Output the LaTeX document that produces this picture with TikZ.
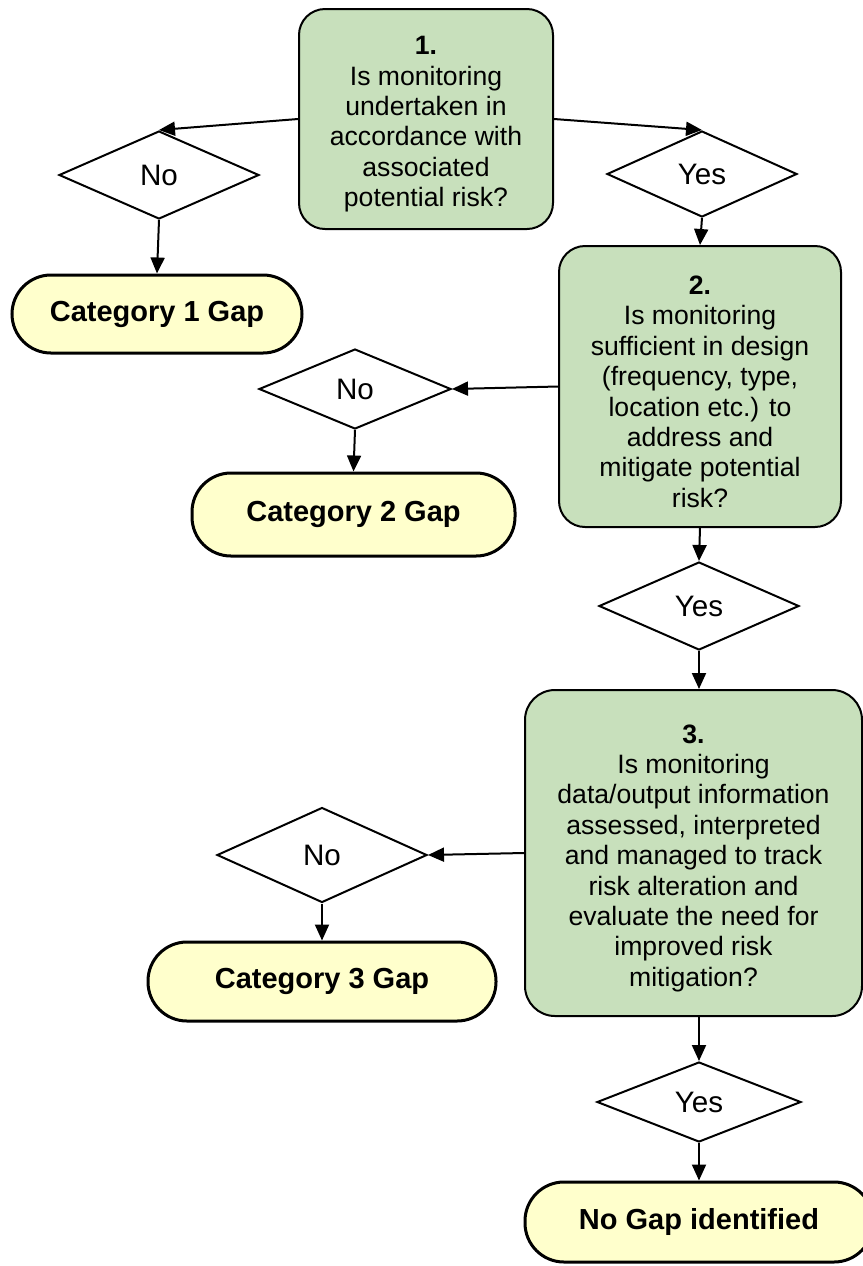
\documentclass[tikz,border=0pt]{standalone}
\usepackage{fontspec}
\setmainfont{Liberation Sans}
\usepackage{xcolor}
\usetikzlibrary{arrows.meta, positioning, shapes.geometric}
\definecolor{questiongreen}{RGB}{200,224,188}
\definecolor{gapyellow}{RGB}{255,255,204}
\tikzset{
    question/.style={draw, line width=1pt, fill=questiongreen, rounded corners=13pt, align=center, font=\fontsize{13.3}{15.2}\selectfont}, % green question boxes
    answer/.style={draw, diamond, line width=1pt, fill=white, inner sep=0pt, font=\fontsize{14.8}{17}\selectfont}, % Yes / No diamonds
    gapbox/.style={draw, line width=1.5pt, fill=gapyellow, rounded corners=19.5pt, font=\bfseries\fontsize{14.5}{17}\selectfont}, % result ovals
}
\tikzstyle{arrow} = [line width=1pt, -{Triangle[length=8pt, width=7pt]}]
\newcommand{\qnum}[1]{\rule{0pt}{14.5pt}\textbf{#1}} % number line, a bit lower

\begin{document}
\begin{tikzpicture}[x=0.5pt, y=-0.5pt]
        \useasboundingbox (0,0) rectangle (863,1266);

        % Fragen
        \node[question, minimum width=127pt, minimum height=110pt] (q1) at (426,119) {\qnum{1.}\\Is monitoring\\undertaken in\\accordance with\\associated\\potential risk?};
        \node[question, minimum width=141pt, minimum height=140.5pt] (q2) at (700,386.5) {\qnum{2.}\\Is monitoring\\sufficient in design\\(frequency, type,\\location etc.) to\\address and\\mitigate potential\\risk?};
        \node[question, minimum width=168.5pt, minimum height=163pt, rounded corners=15pt] (q3) at (693.5,853) {\qnum{3.}\\Is monitoring\\data/output information\\assessed, interpreted\\and managed to track\\risk alteration and\\evaluate the need for\\improved risk\\mitigation?};

        % Antworten
        \node[answer, minimum width=100pt, minimum height=44pt] (no1) at (159,175) {No};
        \node[answer, minimum width=95pt, minimum height=43pt] (yes1) at (702,174) {Yes};
        \node[answer, minimum width=96pt, minimum height=40pt] (no2) at (355,389) {No};
        \node[answer, minimum width=100pt, minimum height=44pt] (yes2) at (699,606) {Yes};
        \node[answer, minimum width=105pt, minimum height=47.5pt] (no3) at (322,855) {No};
        \node[answer, minimum width=102pt, minimum height=40pt] (yes3) at (699,1102) {Yes};

        % Ergebnisse
        \node[gapbox, minimum width=145pt, minimum height=39pt] (cat1) at (157,314) {Category 1 Gap};
        \node[gapbox, minimum width=161.5pt, minimum height=41.5pt] (cat2) at (353.5,514.5) {Category 2 Gap};
        \node[gapbox, minimum width=174pt, minimum height=39.5pt] (cat3) at (322,981.5) {Category 3 Gap};
        \node[gapbox, minimum width=174pt, minimum height=40pt] (nogap) at (699,1222) {No Gap identified};

        % Pfeile
        \draw[arrow] (q1.west) -- (no1.north);
        \draw[arrow] (q1.east) -- (yes1.north);
        \draw[arrow] (no1.south) -- (cat1.north);
        \draw[arrow] (yes1.south) -- (q2.north);
        \draw[arrow] (q2.west) -- (no2.east);
        \draw[arrow] (no2.south) -- (cat2.north);
        \draw[arrow] (q2.south) -- (yes2.north);
        \draw[arrow] (yes2.south) -- (yes2.south |- q3.north);
        \draw[arrow] (q3.west) -- (no3.east);
        \draw[arrow] (no3.south) -- (cat3.north);
        \draw[arrow] (yes3.north |- q3.south) -- (yes3.north);
        \draw[arrow] (yes3.south) -- (nogap.north);
    \end{tikzpicture}
\end{document}
